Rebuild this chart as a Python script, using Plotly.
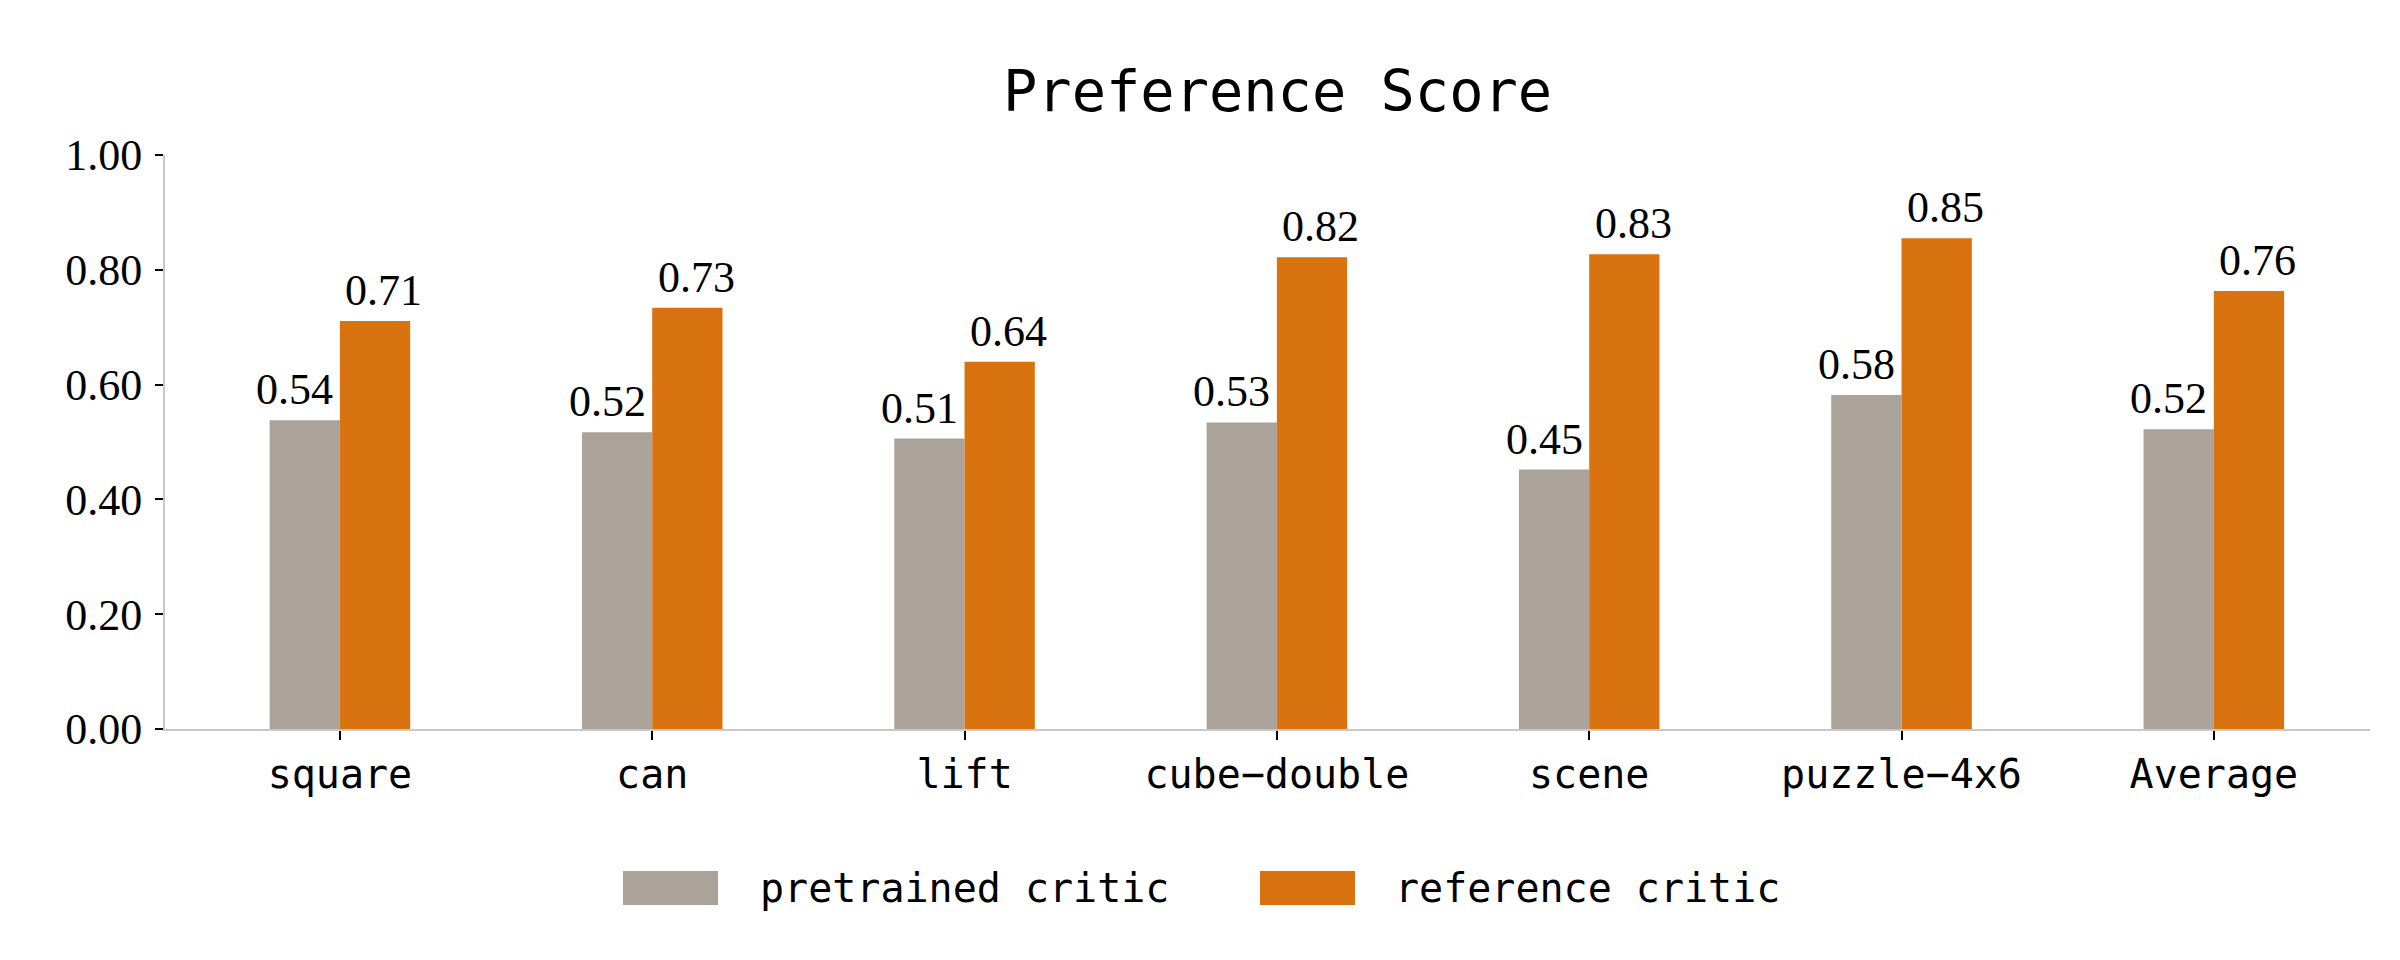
import plotly.graph_objects as go

tasks = ['square', 'can', 'lift', 'cube−double', 'scene', 'puzzle−4x6', 'Average']
pretrained = [0.538, 0.517, 0.506, 0.534, 0.452, 0.582, 0.522]
reference = [0.711, 0.734, 0.640, 0.822, 0.827, 0.855, 0.763]
y_ticks = [0.0, 0.2, 0.4, 0.6, 0.8, 1.0]

GRAY = '#aba39a'
ORANGE = '#d9730f'
SERIF = 'Liberation Serif'
MONO = 'DejaVu Sans Mono'


def main():
    fig = go.Figure()

    # (name, values, colour, pixel nudge of the value label from the category centre)
    series = [('pretrained critic', pretrained, GRAY, -45),
              ('reference critic', reference, ORANGE, 44)]

    for name, vals, col, nudge in series:
        fig.add_trace(go.Bar(
            x=tasks, y=vals,
            name=name,
            marker=dict(color=col, line=dict(width=0)),
            showlegend=False,
        ))
        # value labels sit a bit above the bar and slightly off centre
        for t, v in zip(tasks, vals):
            fig.add_annotation(x=t, y=v, text=f'{v:.2f}', showarrow=False,
                               xanchor='center', yanchor='bottom',
                               xshift=nudge, yshift=4,
                               font=dict(family=SERIF, size=44, color='black'))

    # legend drawn by hand so the swatches are wide boxes like the original
    legend_items = [('pretrained critic', GRAY, 0.2077, 0.2508, 0.2689),
                    ('reference critic', ORANGE, 0.4966, 0.5397, 0.5569)]
    for label, col, x0, x1, tx in legend_items:
        fig.add_shape(type='rect', xref='paper', yref='paper',
                      x0=x0, x1=x1, y0=-0.3066, y1=-0.2474,
                      fillcolor=col, line=dict(width=0))
        fig.add_annotation(xref='paper', yref='paper', x=tx, y=-0.277,
                           text=label, showarrow=False,
                           xanchor='left', yanchor='middle',
                           font=dict(family=MONO, size=40, color='black'))

    # page body adds ~8px offset, so margins are shifted up/left by 8
    fig.update_layout(
        width=2400, height=960,
        margin=dict(l=157, r=38, t=147, b=239),
        paper_bgcolor='white', plot_bgcolor='white',
        barmode='group', bargap=0.55, bargroupgap=0,
        title=dict(text='Preference Score', x=0.529, xanchor='center',
                   y=0.913, yanchor='middle',
                   font=dict(family=MONO, size=57, color='black')),
        xaxis=dict(
            range=[-0.56, 6.5],
            showline=True, linecolor='#c8c8c8', linewidth=2,
            ticks='outside', ticklen=9, tickwidth=2, tickcolor='black',
            ticklabelstandoff=0,
            tickfont=dict(family=MONO, size=40, color='black'),
            showgrid=False, zeroline=False,
        ),
        yaxis=dict(
            range=[0, 1.0],
            tickvals=y_ticks,
            ticktext=[f'{t:.2f}' for t in y_ticks],
            showline=True, linecolor='#c8c8c8', linewidth=2,
            ticks='outside', ticklen=8, tickwidth=2, tickcolor='black',
            ticklabelstandoff=4,
            tickfont=dict(family=SERIF, size=44, color='black'),
            showgrid=False, zeroline=False,
        ),
    )

    fig.write_html('out.html')


if __name__ == '__main__':
    main()
